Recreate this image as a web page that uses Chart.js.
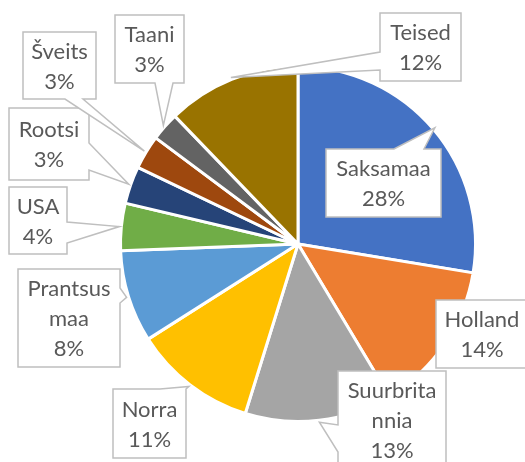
<!DOCTYPE html>
<html>
<head>
<meta charset="utf-8">
<script src="https://cdn.jsdelivr.net/npm/chart.js@4"></script>
<style>
html,body{margin:0;padding:0;background:#fff;}
#c{display:block;}
</style>
</head>
<body>
<canvas id="c" width="525" height="462"></canvas>
<script>
// ---- data ----
const categories = ["Saksamaa","Holland","Suurbritannia","Norra","Prantsusmaa","USA","Rootsi","Šveits","Taani","Teised"];
const values = [27.6,13.8,13.4,11.2,8.4,4.3,3.4,3.1,2.6,12.2];
const colors = ["#4472C4","#ED7D31","#A5A5A5","#FFC000","#5B9BD5","#70AD47","#264478","#9E480E","#636363","#997300"];

// ---- label layout (callout boxes) ----
const labelBoxes = [[326,149,115,68],[436,300,92,68],[338,371,108,98],[113,389,73,69],[18,269,102,98],[9,187,58,67],[9,108,80,72],[23,32,73,67],[115,15,69,68],[380,13,81,68]];
const labelTails = [["top",394,424],["none"],["left",425,452],["top",160,186],["right",288,303],["right",222,243],["right",143,170],["bottom",65,83],["bottom",155,173],["left",52,70]];
const labelWrap = [0,0,9,0,8,0,0,0,0,0];

const FONT = '22px Lato';
const LINE_H = 30;

function wrapName(name, n){
  if(!n || name.length <= n) return [name];
  const out=[]; for(let i=0;i<name.length;i+=n) out.push(name.slice(i,i+n)); return out;
}

const calloutPlugin = {
  id:'callouts',
  afterDatasetsDraw(chart){
    const ctx = chart.ctx;
    const meta = chart.getDatasetMeta(0);
    const total = values.reduce((a,b)=>a+b,0);
    meta.data.forEach((arc,i)=>{
      const p = arc.getProps(['x','y','startAngle','endAngle','outerRadius'], true);
      const mid = (p.startAngle+p.endAngle)/2;
      const ax = p.x + Math.cos(mid)*(p.outerRadius+2);
      const ay = p.y + Math.sin(mid)*(p.outerRadius+2);
      const [bx,by,bw,bh] = labelBoxes[i];
      const t = labelTails[i];
      ctx.save();
      ctx.beginPath();
      ctx.moveTo(bx,by);
      if(t[0]==='top'){ ctx.lineTo(t[1],by); ctx.lineTo(ax,ay); ctx.lineTo(t[2],by); }
      ctx.lineTo(bx+bw,by);
      if(t[0]==='right'){ ctx.lineTo(bx+bw,t[1]); ctx.lineTo(ax,ay); ctx.lineTo(bx+bw,t[2]); }
      ctx.lineTo(bx+bw,by+bh);
      if(t[0]==='bottom'){ ctx.lineTo(t[2],by+bh); ctx.lineTo(ax,ay); ctx.lineTo(t[1],by+bh); }
      ctx.lineTo(bx,by+bh);
      if(t[0]==='left'){ ctx.lineTo(bx,t[2]); ctx.lineTo(ax,ay); ctx.lineTo(bx,t[1]); }
      ctx.closePath();
      ctx.fillStyle='#ffffff';
      ctx.fill();
      ctx.lineWidth=1.5;
      ctx.strokeStyle='#BFBFBF';
      ctx.stroke();
      const lines = wrapName(categories[i], labelWrap[i]);
      lines.push(Math.round(values[i]/total*100)+'%');
      ctx.font = FONT;
      ctx.fillStyle='#595959';
      ctx.textAlign='center';
      ctx.textBaseline='middle';
      const cx = bx+bw/2, cy = by+bh/2;
      const y0 = cy - (lines.length-1)*LINE_H/2;
      lines.forEach((ln,k)=>ctx.fillText(ln, cx, y0+k*LINE_H+1));
      ctx.restore();
    });
  }
};

new Chart(document.getElementById('c'), {
  type:'pie',
  data:{
    labels:categories,
    datasets:[{data:values, backgroundColor:colors, borderColor:'#ffffff', borderWidth:3}]
  },
  options:{
    responsive:false,
    animation:false,
    layout:{padding:{left:119,right:48,top:65,bottom:39}},
    plugins:{legend:{display:false}, tooltip:{enabled:false}}
  },
  plugins:[calloutPlugin]
});
</script>
</body>
</html>
